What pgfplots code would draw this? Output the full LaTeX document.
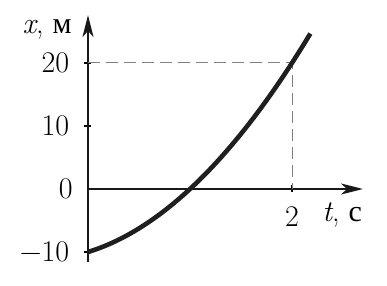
\documentclass[border=0pt]{standalone}
\usepackage{fontspec}
\newfontfamily\cyr{Liberation Serif}
\usepackage{pgfplots}
\pgfplotsset{compat=1.18}
\usetikzlibrary{arrows.meta}
\begin{document}
\fontsize{15}{18}\selectfont
\begin{tikzpicture}
\path[use as bounding box] (0,0) rectangle (193.5pt,142.5pt);
\begin{axis}[
  at={(44pt,48pt)}, anchor=origin,
  scale only axis, width=137.5pt, height=123.5pt,
  xmin=0, xmax=2.696, ymin=-11.59, ymax=27.6,
  axis lines=middle,
  axis line style={line width=0.9pt, color=black!90, -{Stealth[length=11pt,width=5.5pt,inset=3pt]}},
  xtick={2}, xticklabels={2},
  ytick={-10,10,20}, yticklabels={−10,10,20},
  extra y ticks={0}, extra y tick labels={0}, extra y tick style={major tick length=0pt},
  tick style={line width=0.8pt, black},
  major tick length=3.5pt, tick align=center,
  yticklabel style={anchor=east, inner sep=0pt, xshift=-7.5pt},
  xticklabel style={anchor=north, inner sep=0pt, yshift=-7pt},
  every axis x label/.style={at={(axis cs:2.294,-4.13)}, anchor=west, inner sep=0pt},
  every axis y label/.style={at={(axis cs:0,25.24)}, anchor=east, inner sep=0pt, xshift=-8pt},
  xlabel={\textit{t}, {\cyr с}},
  ylabel={\textit{x}, {\cyr м}},
  clip=false,
]
\addplot[gray, line width=0.5pt, dash pattern=on 6pt off 3pt] coordinates {(0,20) (2,20) (2,0)};
\addplot[black!88, line width=2.3pt, smooth] table {
t x
0 -10
0.1 -9.45
0.2 -8.8
0.3 -8.05
0.4 -7.2
0.5 -6.25
0.6 -5.2
0.7 -4.05
0.8 -2.8
0.9 -1.45
1.0 0
1.1 1.55
1.2 3.2
1.3 4.95
1.4 6.8
1.5 8.75
1.6 10.8
1.7 12.95
1.8 15.2
1.9 17.55
2.0 20
2.1 22.55
2.18 24.66
};
\end{axis}
\end{tikzpicture}
\end{document}
